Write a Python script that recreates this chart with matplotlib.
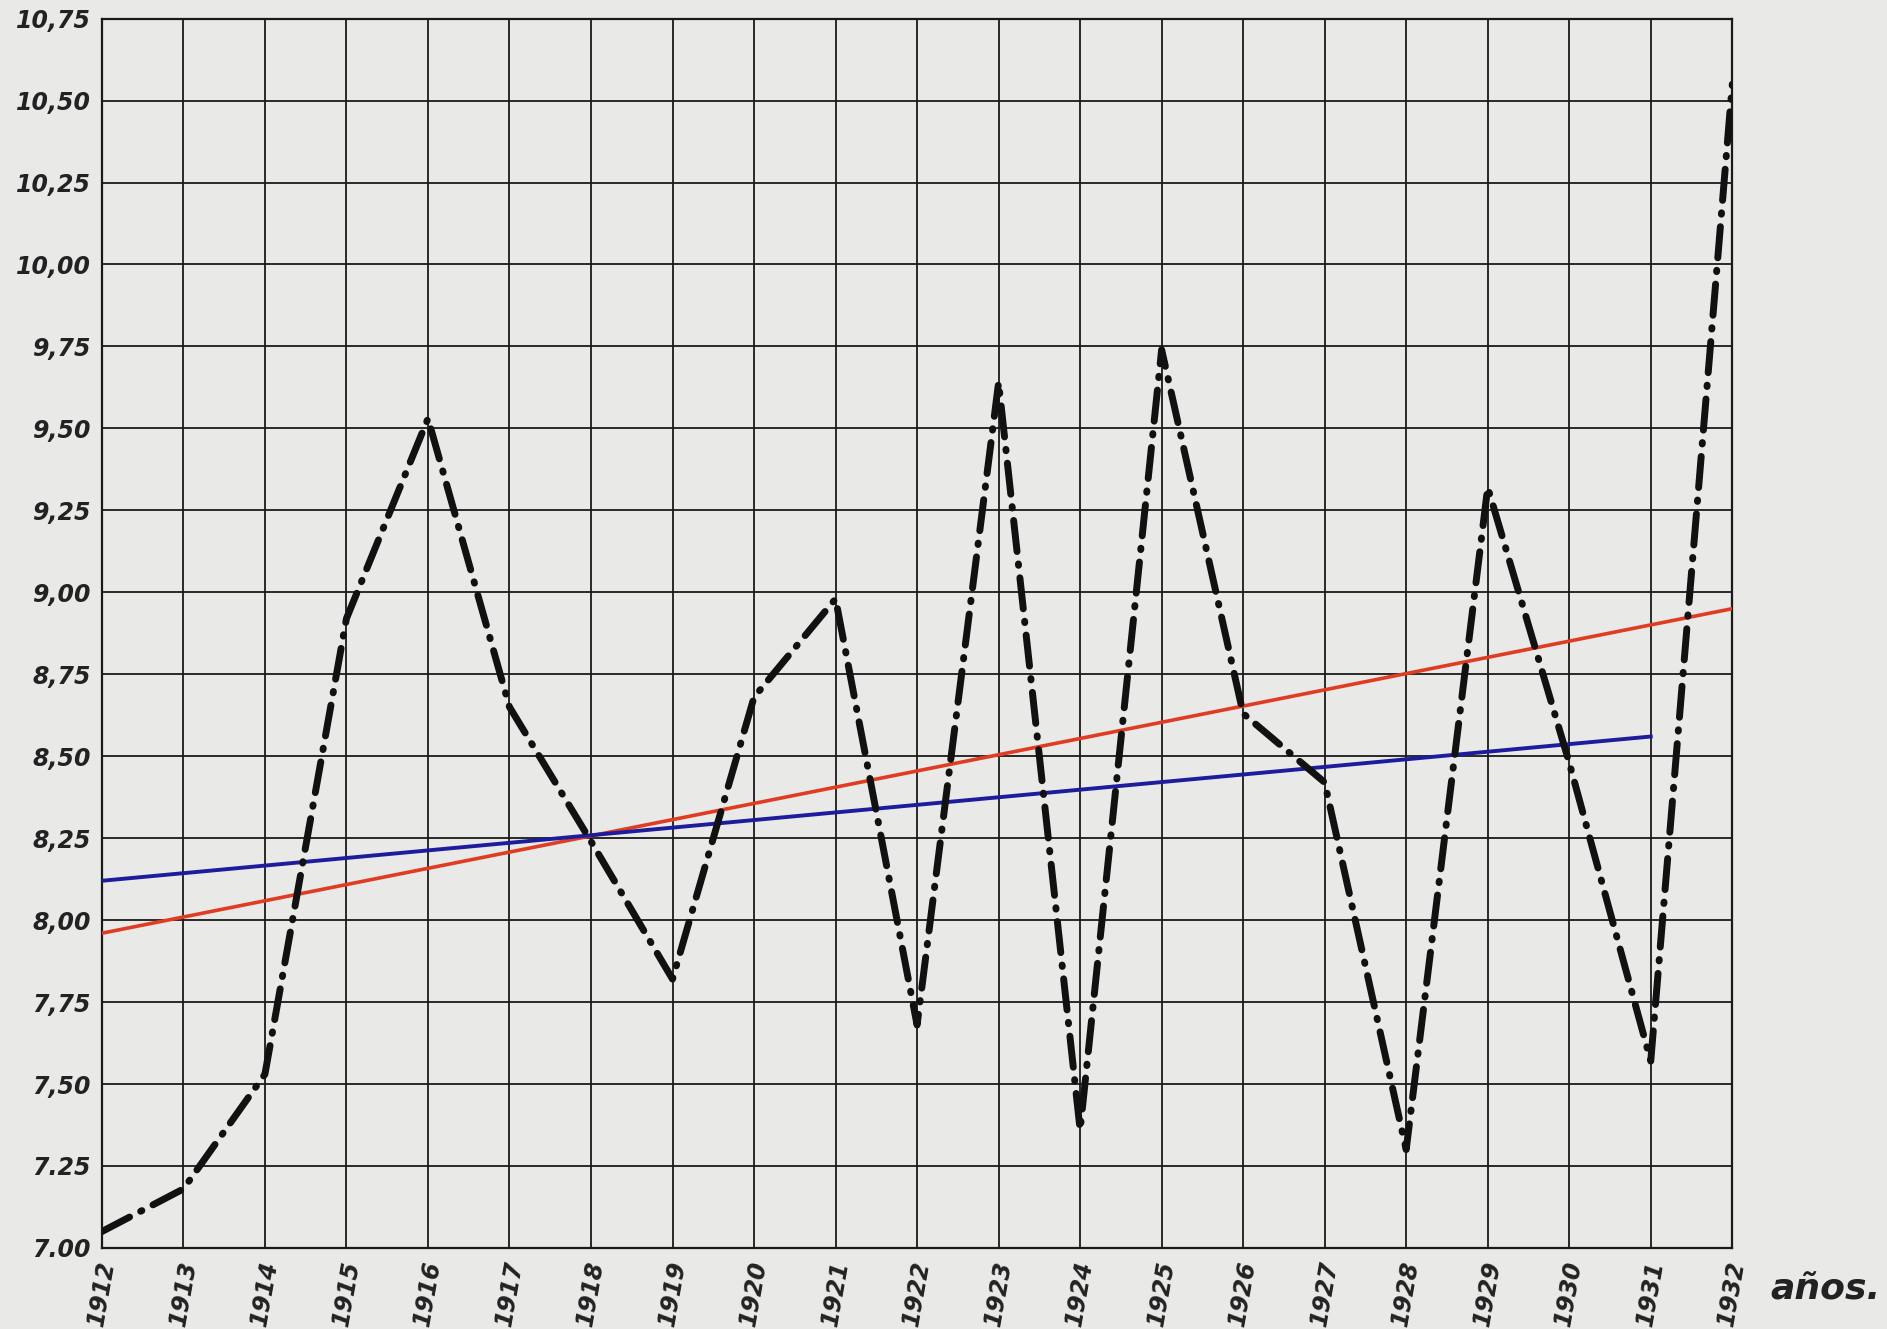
import matplotlib
matplotlib.use("Agg")
import matplotlib.pyplot as plt

years = list(range(1912, 1933))
values = [7.05, 7.18, 7.53, 8.92, 9.53, 8.65, 8.24, 7.82, 8.68, 8.98,
          7.68, 9.64, 7.36, 9.74, 8.63, 8.42, 7.30, 9.32, 8.48, 7.57, 10.55]

red_years = [1912, 1932]
red_values = [7.96, 8.95]
blue_years = [1912, 1931]
blue_values = [8.12, 8.56]

y_ticks = [7.00, 7.25, 7.50, 7.75, 8.00, 8.25, 8.50, 8.75, 9.00, 9.25,
           9.50, 9.75, 10.00, 10.25, 10.50, 10.75]
y_labels = ["7.00", "7.25", "7,50", "7,75", "8,00", "8,25", "8,50", "8,75",
            "9,00", "9,25", "9,50", "9,75", "10,00", "10,25", "10,50", "10,75"]
x_labels = [str(y) for y in years]

paper = "#e9e9e7"
fig = plt.figure(figsize=(18.87, 13.29), dpi=100, facecolor=paper)
ax = fig.add_axes([0.054, 0.061, 0.864, 0.925])
ax.set_facecolor(paper)

ax.set_xlim(1912, 1932)
ax.set_ylim(7.0, 10.75)
ax.set_xticks(years)
ax.set_yticks(y_ticks)
ax.grid(True, color="#1a1a1a", linewidth=1.3)
for s in ax.spines.values():
    s.set_color("#1a1a1a")
    s.set_linewidth(1.6)
ax.tick_params(length=0, pad=8)

font = dict(family="DejaVu Sans", fontstyle="italic", fontweight="bold", color="#222222")
ax.set_yticklabels(y_labels, fontsize=17, **font)
ax.set_xticklabels(x_labels, fontsize=17, rotation=80, **font)

ax.plot(red_years, red_values, color="#e03c22", linewidth=2.6, zorder=3)
ax.plot(blue_years, blue_values, color="#1c1c9c", linewidth=2.8, zorder=3)

line, = ax.plot(years, values, color="#111111", linewidth=5.0, zorder=4,
                dash_capstyle="round", solid_joinstyle="round")
line.set_dashes((4.5, 1.8, 0.2, 1.8))

fig.text(0.938, 0.030, "años.", fontsize=26, ha="left", va="center", **font)

fig.savefig("out.png", dpi=100, facecolor=paper)
